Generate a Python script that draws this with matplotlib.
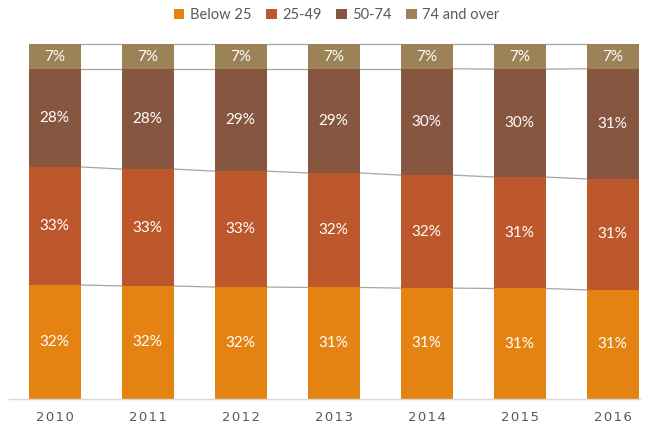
import matplotlib
matplotlib.use("Agg")
import matplotlib.pyplot as plt
import numpy as np

years = ["2010", "2011", "2012", "2013", "2014", "2015", "2016"]
series_names = ["Below 25", "25-49", "50-74", "74 and over"]
below25 = [32.1, 31.8, 31.5, 31.4, 31.2, 31.1, 30.7]
age25_49 = [33.3, 33.0, 32.7, 32.3, 31.9, 31.45, 31.3]
age50_74 = [27.7, 28.3, 28.9, 29.4, 30.0, 30.45, 31.1]
over74 = [6.9, 6.9, 6.9, 6.9, 6.9, 7.0, 6.9]
colors = ["#E48312", "#BD582C", "#865640", "#9B8357"]

plt.rcParams['font.family'] = ['Lato', 'DejaVu Sans']

fig = plt.figure(figsize=(6.48, 4.28), dpi=100)
ax = fig.add_axes([9/648, 29.3/428, 631/648, 354.4/428])

data = np.array([below25, age25_49, age50_74, over74], dtype=float)
totals = data.sum(axis=0)
shares = data / totals
x = np.arange(len(years))
width = 0.56
bottom = np.zeros(len(years))
for i, name in enumerate(series_names):
    ax.bar(x, shares[i], width, bottom=bottom, color=colors[i], label=name,
           edgecolor='none', zorder=2)
    for xi, b, v, raw in zip(x, bottom, shares[i], data[i]):
        ax.text(xi, b + v / 2, f"{raw:.0f}%", ha='center', va='center',
                color='white', fontsize=11, zorder=3)
    bottom = bottom + shares[i]
    # series lines
    for j in range(len(years) - 1):
        ax.plot([x[j] + width / 2, x[j + 1] - width / 2], [bottom[j], bottom[j + 1]],
                color='#A6A6A6', lw=0.9, zorder=1, clip_on=False)

ax.set_xlim(-0.49, 6.295)
ax.set_ylim(0, 1)
ax.set_yticks([])
ax.set_xticks(x)
ax.set_xticklabels(["\u200a".join(y) for y in years], color='#595959', fontsize=9.5,
                   family=['DejaVu Sans'])
ax.tick_params(axis='x', length=0, pad=9)
for s in ['top', 'right', 'left']:
    ax.spines[s].set_visible(False)
ax.spines['bottom'].set_color('#D9D9D9')
ax.spines['bottom'].set_linewidth(1)

leg = fig.legend(loc='upper center', bbox_to_anchor=(0.52, 1.012), ncol=4, frameon=False,
                 fontsize=10.5, handlelength=0.7, handleheight=0.7, handletextpad=0.4,
                 columnspacing=1.0)
for t in leg.get_texts():
    t.set_color('#595959')

fig.savefig("out.png", dpi=100)
